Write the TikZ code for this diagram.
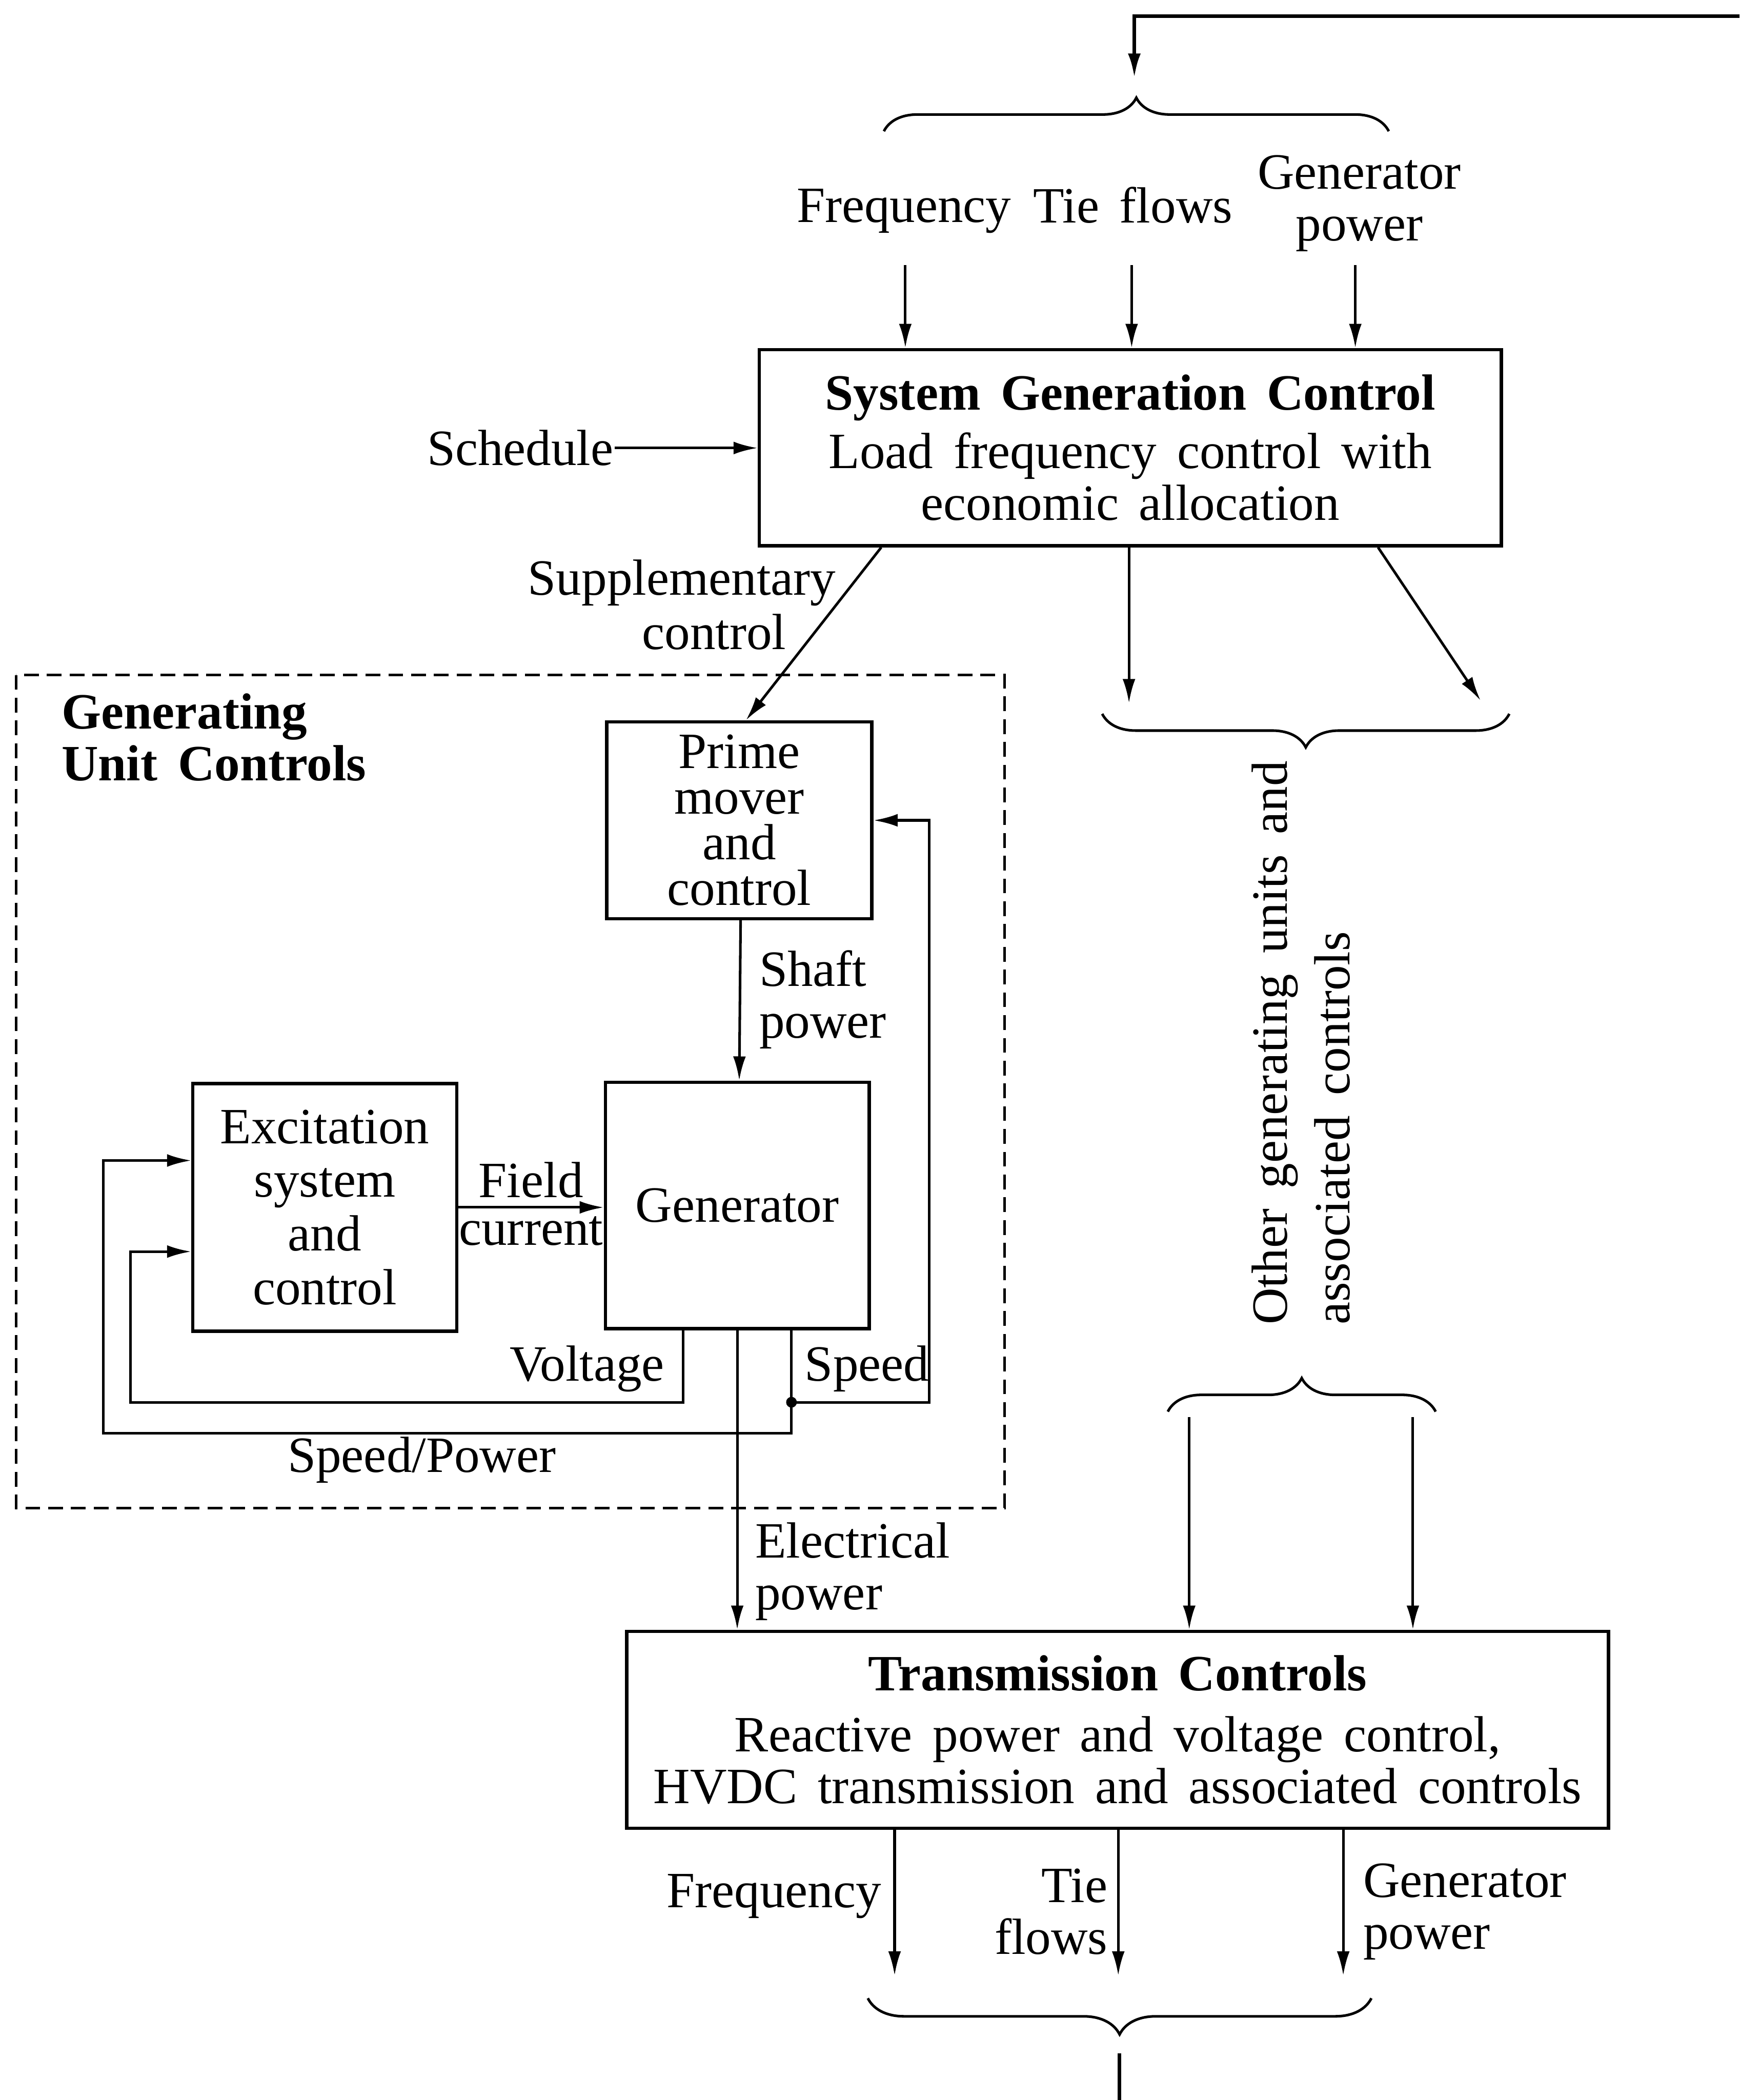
\documentclass[tikz,border=0pt]{standalone}
\usepackage{fontspec}
\setmainfont{Liberation Serif}[WordSpace=1.6]
\usetikzlibrary{arrows.meta,decorations.pathreplacing}

\begin{document}
\begin{tikzpicture}[>={Latex[length=1.8mm,width=0.95mm]}, line width=0.55pt,
    every node/.style={font=\fontsize{10.8}{11}\selectfont},
    blk/.style={draw, line width=0.7pt, align=center, inner sep=0pt},
    lbl/.style={inner sep=0pt, align=center},
    brc/.style={decorate, decoration={brace, amplitude=2.5mm}},
    unitbox/.style={dash pattern=on 1.1mm off 0.6mm}]
    \useasboundingbox (0,0) rectangle (12.99,-15.68);

    % system generation control
    \node[blk, minimum width=5.54cm, minimum height=1.465cm] (sgc) at (8.44,-3.3425)
    {\textbf{System Generation Control}\\[1.5pt] Load frequency control with\\ economic allocation};
    \coordinate (fbin) at (12.99,-0.12); \coordinate (fbtip) at (8.47,-0.58);
    \draw[->, line width=0.75pt] (fbin) -| (fbtip);
    \draw[brc] (6.60,-0.98) -- (10.37,-0.98);
    \node[lbl] (fq) at (6.75,-1.575) {Frequency};
    \node[lbl] (tf) at (8.46,-1.53) {Tie flows};
    \node[lbl] (gp) at (10.15,-1.52) {Generator\\power};
    \coordinate (fq-o) at (6.76,-1.98); \coordinate (tf-o) at (8.45,-1.98); \coordinate (gp-o) at (10.12,-1.98);
    \draw[->] (fq-o) -- (fq-o |- sgc.north);
    \draw[->] (tf-o) -- (tf-o |- sgc.north);
    \draw[->] (gp-o) -- (gp-o |- sgc.north);
    \node[lbl, anchor=east] (sch) at (4.59,-3.345) {Schedule};
    \draw[->] (sch.east) -- (sch.east -| sgc.west);

    % generating unit
    \draw[unitbox] (0.12,-5.04) rectangle (7.50,-11.26);
    \node[lbl, anchor=north west, align=left] (guc) at (0.45,-5.17)
    {\textbf{Generating}\\\textbf{Unit Controls}};
    \node[blk, minimum width=1.98cm, minimum height=1.47cm,
    font=\fontsize{10.8}{9.7}\selectfont] (pm) at (5.52,-6.125) {Prime\\mover\\and\\control};
    \node[blk, minimum width=1.97cm, minimum height=1.84cm] (gen) at (5.505,-9.00) {Generator};
    \node[blk, minimum width=1.97cm, minimum height=1.85cm,
    font=\fontsize{10.8}{11.4}\selectfont] (exc) at (2.425,-9.015) {Excitation\\system\\and\\control};
    \draw[->] ([xshift=-1.86cm]sgc.south) -- ([xshift=0.5mm]pm.north);
    \node[lbl, anchor=east] (sup1) at (6.25,-4.35) {Supplementary};
    \node[lbl, anchor=east] (sup2) at (5.88,-4.72) {control};
    \draw[->] ([xshift=0.1mm]pm.south) -- (pm.south |- gen.north);
    \node[lbl, anchor=west, align=left] (shp) at (5.66,-7.465) {Shaft\\power};
    \draw[->] (exc.east) -- (exc.east -| gen.west)
    node[lbl, midway, above=0.6mm] (fld) {Field}
    node[lbl, midway, below=0.6mm] (cur) {current};
    \coordinate (vl1) at (5.10,-10.47); \coordinate (vl2) at (0.974,-9.345);
    \draw[->] (vl1 |- gen.south) -- (vl1) -| (vl2) -- (vl2 -| exc.west);
    \node[lbl, anchor=east] (vlt) at (4.97,-10.22) {Voltage};
    \coordinate (spj) at (5.91,-10.47); \coordinate (sp1) at (6.94,-6.125);
    \draw[->] (spj |- gen.south) -- (spj) -| (sp1) -- (pm.east);
    \fill (spj) circle (0.04);
    \node[lbl, anchor=west] (spd) at (6.00,-10.22) {Speed};
    \coordinate (spb) at (5.91,-10.70); \coordinate (spp) at (0.77,-8.665);
    \draw[->] (spj) -- (spb) -| (spp) -- (spp -| exc.west);
    \node[lbl] (spw) at (3.15,-10.90) {Speed/Power};

    % other units
    \coordinate (oth-a) at (8.43,-5.25); \coordinate (oth-b) at (11.055,-5.23);
    \draw[->] (oth-a |- sgc.south) -- (oth-a);
    \draw[->] ([xshift=1.85cm]sgc.south) -- (oth-b);
    \draw[brc] (11.27,-5.33) -- (8.23,-5.33);
    \node[lbl, rotate=90, anchor=west, align=left] (oth) at (9.715,-9.90)
    {Other generating units and\\[2.3pt]associated controls};
    \draw[brc] (8.72,-10.54) -- (10.72,-10.54);

    % transmission
    \node[blk, minimum width=7.33cm, minimum height=1.47cm] (tc) at (8.345,-12.915)
    {\textbf{Transmission Controls}\\[2pt] Reactive power and voltage control,\\ HVDC transmission and associated controls};
    \coordinate (oth-c) at (8.88,-10.58); \coordinate (oth-d) at (10.55,-10.58);
    \draw[->] (oth-c) -- (oth-c |- tc.north);
    \draw[->] (oth-d) -- (oth-d |- tc.north);
    \draw[->] (gen.south) -- (gen.south |- tc.north);
    \node[lbl, anchor=west, align=left] (elp) at (5.63,-11.735) {Electrical\\power};
    \coordinate (fq2) at (6.68,-14.75); \coordinate (tf2) at (8.35,-14.75); \coordinate (gp2) at (10.03,-14.75);
    \draw[->] (fq2 |- tc.south) -- (fq2);
    \draw[->] (tf2 |- tc.south) -- (tf2);
    \draw[->] (gp2 |- tc.south) -- (gp2);
    \node[lbl, anchor=east] (fqb) at (6.59,-14.16) {Frequency};
    \node[lbl, anchor=east, align=right] (tfb) at (8.28,-14.275) {Tie\\flows};
    \node[lbl, anchor=west, align=left] (gpb) at (10.17,-14.275) {Generator\\power};
    \draw[brc, decoration={amplitude=2.7mm}] (10.24,-14.92) -- (6.48,-14.92);
    \coordinate (out) at (8.36,-15.68);
    \draw[line width=0.75pt] (8.36,-15.33) -- (out);
\end{tikzpicture}
\end{document}
